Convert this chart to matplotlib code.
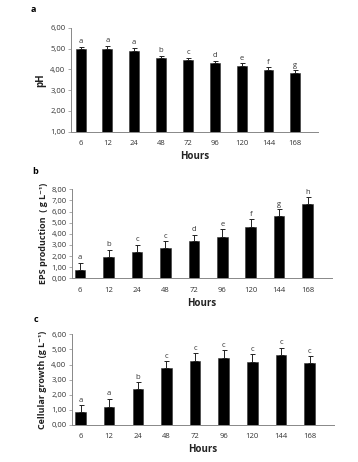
import numpy as np
import matplotlib
matplotlib.use("Agg")
import matplotlib.pyplot as plt
from matplotlib.ticker import FuncFormatter

hours = ["6", "12", "24", "48", "72", "96", "120", "144", "168"]

ph_mean = [4.97, 4.97, 4.91, 4.54, 4.44, 4.30, 4.17, 3.97, 3.83]
ph_err = [0.13, 0.17, 0.13, 0.13, 0.13, 0.13, 0.13, 0.13, 0.14]
ph_letters = ["a", "a", "a", "b", "c", "d", "e", "f", "g"]

eps_mean = [0.78, 1.92, 2.40, 2.69, 3.38, 3.74, 4.64, 5.57, 6.65]
eps_err = [0.63, 0.65, 0.63, 0.63, 0.54, 0.66, 0.66, 0.63, 0.63]
eps_letters = ["a", "b", "c", "c", "d", "e", "f", "g", "h"]

cell_mean = [0.85, 1.22, 2.38, 3.80, 4.26, 4.46, 4.15, 4.61, 4.08]
cell_err = [0.48, 0.51, 0.44, 0.44, 0.49, 0.48, 0.53, 0.51, 0.49]
cell_letters = ["a", "a", "b", "c", "c", "c", "c", "c", "c"]

plt.rcParams['font.family'] = ['Open Sans', 'DejaVu Sans']

fig = plt.figure(figsize=(3.58, 4.62), dpi=100)

panels = [
    # rect, means, errs, letters, ylim, yticks, ylabel, label size, tag, xlim
    ([0.198, 0.715, 0.690, 0.2245], ph_mean, ph_err, ph_letters, (1, 6),
     np.arange(1, 7), "pH", 7, "a", (-0.36, 8.84)),
    ([0.2025, 0.3976, 0.724, 0.1926], eps_mean, eps_err, eps_letters, (0, 8),
     np.arange(0, 9), "EPS production  ( g L⁻¹)", 6.5, "b", (-0.27, 8.85)),
    ([0.201, 0.0801, 0.732, 0.1963], cell_mean, cell_err, cell_letters, (0, 6),
     np.arange(0, 7), "Cellular growth (g L⁻¹)", 6.5, "c", (-0.3, 8.85)),
]

comma = FuncFormatter(lambda v, p: f"{v:.2f}".replace(".", ","))

for rect, mean, err, letters, ylim, yticks, ylabel, lsize, tag, xlim in panels:
    ax = fig.add_axes(rect)
    x = np.arange(len(hours))
    ax.bar(x, mean, width=0.37, color="black", edgecolor="#333333", linewidth=0.4,
           yerr=[np.zeros(len(err)), err], error_kw=dict(ecolor="#222222", elinewidth=0.7,
                                                        capsize=1.8, capthick=0.7))
    span = ylim[1] - ylim[0]
    for xi, m, e, lab in zip(x, mean, err, letters):
        ax.text(xi, m + e + span * 0.015, lab, ha="center", va="bottom",
                fontsize=5.5, color="#333333")
    ax.set_xlim(*xlim)
    ax.set_ylim(*ylim)
    ax.set_yticks(yticks)
    ax.yaxis.set_major_formatter(comma)
    ax.set_xticks(x)
    ax.set_xticklabels(hours)
    ax.tick_params(axis="x", length=0, labelsize=5.5, pad=6, colors="#333333")
    ax.tick_params(axis="y", length=2, width=0.5, labelsize=5.5, pad=2, colors="#333333",
                   color="#888888")
    for s in ["top", "right"]:
        ax.spines[s].set_visible(False)
    for s in ["left", "bottom"]:
        ax.spines[s].set_color("#888888")
        ax.spines[s].set_linewidth(0.7)
    ax.set_xlabel("Hours", fontsize=7, fontweight="bold", labelpad=3, color="#222222")
    ax.set_ylabel(ylabel, fontsize=lsize, fontweight="bold", labelpad=3, color="#222222")

fig.text(33 / 358, 1 - 10 / 462, "a", fontsize=6.5, fontweight="bold", ha="center", va="center")
fig.text(35 / 358, 1 - 171 / 462, "b", fontsize=6.5, fontweight="bold", ha="center", va="center")
fig.text(36 / 358, 1 - 319 / 462, "c", fontsize=6.5, fontweight="bold", ha="center", va="center")

fig.savefig("out.png", dpi=100, facecolor="white")
